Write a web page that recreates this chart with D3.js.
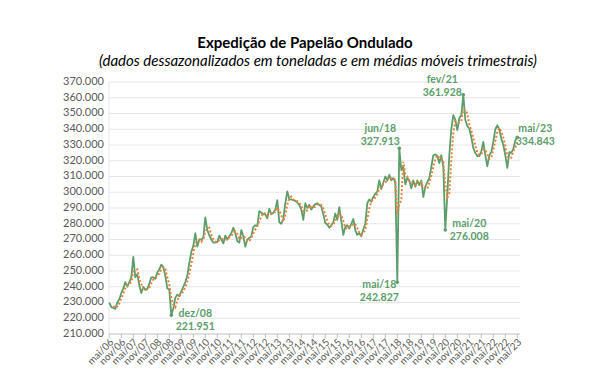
<!DOCTYPE html>
<html>
<head>
<meta charset="utf-8">
<script src="https://cdn.jsdelivr.net/npm/d3@7"></script>
<style>
  body { margin: 0; background: #fff; }
  text { font-family: Lato, "Liberation Sans", sans-serif; }
</style>
</head>
<body>
<div id="chart"></div>
<script>
// expedição mensal, mil toneladas (dessazonalizado), mai/06 .. mai/23
const monthNames = ["jan", "fev", "mar", "abr", "mai", "jun", "jul", "ago", "set", "out", "nov", "dez"];
const categories = d3.timeMonth.range(new Date(2006, 4, 1), new Date(2023, 5, 1))
    .map(d => monthNames[d.getMonth()] + "/" + String(d.getFullYear()).slice(2));
const values = [
    230, 227, 226.5, 226, 230, 232, 236, 239, 243, 240,
    243, 246, 259, 246, 248, 241, 236, 240, 238, 238.5,
    242, 246, 246, 245, 249, 251, 254, 252.5, 247, 239,
    238, 221.951, 226, 233, 235, 234, 237, 240, 243, 247,
    255, 262, 266, 274, 265.5, 270, 270, 271, 284, 276,
    272.5, 270, 268, 268, 268.5, 272.5, 270, 267.5, 272.5, 270,
    272, 274, 277.5, 274, 269, 268, 276, 272, 265.5, 270,
    271, 272, 278, 279, 278.5, 288, 287, 286, 286, 283.5,
    289.5, 286, 287, 289, 295, 281, 280, 283, 293, 300.5,
    295.5, 295.5, 295, 294.5, 293.5, 292, 289, 282.5, 293, 290,
    292, 289, 291, 292.5, 293, 292, 291, 286, 280.5, 279.5,
    277.5, 279, 281, 286.5, 282.5, 290.5, 282, 273, 278, 279,
    277, 280, 283, 276, 273, 274, 272, 276.5, 280, 293,
    295.5, 294, 297, 299, 300.5, 307.5, 302, 306, 310, 307.5,
    311, 307.5, 309, 306.5, 242.827, 327.913, 314, 316, 305, 309,
    307.5, 302.5, 307.5, 303.5, 307.5, 304.5, 307.5, 297, 303.5, 306.5,
    309, 316, 323.5, 324, 323, 318.5, 323.5, 316, 276.008, 298,
    323.5, 340, 349, 346, 339.5, 347, 349, 361.928, 346, 342,
    340.5, 335, 328, 325, 323, 323, 326, 332, 323.5, 316.5,
    323.5, 325.5, 332, 340, 342.5, 340, 334, 330, 323.5, 315.5,
    325.5, 325, 327.5, 333, 334.843
];
const yTicks = d3.range(210, 371, 10);
const labelled = ["dez/08", "mai/18", "jun/18", "mai/20", "fev/21", "mai/23"];

const W = 600, H = 392;
const green = "#5b9e6b", orange = "#e8823a", grey = "#595959";

const svg = d3.select("#chart").append("svg")
    .attr("width", W)
    .attr("height", H);

const x = d3.scalePoint().domain(categories).range([109.3, 517.3]);
const y = d3.scaleLinear().domain([210, 370]).range([334, 82]);
const fmt = d3.formatLocale({decimal: ",", thousands: ".", grouping: [3], currency: ["R$", ""]}).format(",.0f");

// titulo
svg.append("text")
    .attr("x", 305).attr("y", 48)
    .attr("text-anchor", "middle")
    .style("font-weight", "bold").style("font-size", "15px")
    .text("Expedição de Papelão Ondulado");
svg.append("text")
    .attr("x", 318).attr("y", 66)
    .attr("text-anchor", "middle")
    .style("font-style", "italic").style("font-size", "15px")
    .text("(dados dessazonalizados em toneladas e em médias móveis trimestrais)");

// grade
svg.append("g")
    .selectAll("line")
    .data(yTicks)
    .enter()
    .append("line")
    .attr("x1", 109).attr("x2", 520)
    .attr("y1", d => y(d)).attr("y2", d => y(d))
    .attr("stroke", d => d == 210 ? "#bfbfbf" : "#e6e6e6");
svg.append("line")
    .attr("x1", 109).attr("x2", 109).attr("y1", 82).attr("y2", 334)
    .attr("stroke", "#e6e6e6");

svg.append("g")
    .selectAll("text")
    .data(yTicks)
    .enter()
    .append("text")
    .attr("x", 104).attr("y", d => y(d))
    .attr("text-anchor", "end")
    .attr("dominant-baseline", "middle")
    .style("font-size", "11px").attr("fill", grey)
    .text(d => fmt(d * 1000));

// eixo x, um rotulo a cada 6 meses
const xTicks = categories.filter((_, i) => i % 6 == 0);
const xg = svg.append("g");
xg.selectAll("line")
    .data(xTicks)
    .enter()
    .append("line")
    .attr("x1", d => x(d)).attr("x2", d => x(d))
    .attr("y1", 334).attr("y2", 338)
    .attr("stroke", "#bfbfbf");
xg.selectAll("text")
    .data(xTicks)
    .enter()
    .append("text")
    .attr("transform", d => "translate(" + (x(d) + 3) + ",341) rotate(-45)")
    .attr("text-anchor", "end")
    .attr("dominant-baseline", "middle")
    .style("font-size", "10px").attr("fill", grey)
    .text(d => d);

// media movel de 3 meses (linha de tendencia)
const avg = values.map((v, i) => i < 2 ? null : d3.mean(values.slice(i - 2, i + 1)));

const line = d3.line()
    .defined(d => d[1] != null)
    .x(d => x(d[0]))
    .y(d => y(d[1]));

svg.append("path")
    .attr("d", line(categories.map((c, i) => [c, values[i]])))
    .attr("fill", "none")
    .attr("stroke", green)
    .attr("stroke-width", 1.8)
    .attr("stroke-linejoin", "round");

svg.append("path")
    .attr("d", line(categories.map((c, i) => [c, avg[i]])))
    .attr("fill", "none")
    .attr("stroke", orange)
    .attr("stroke-width", 2)
    .attr("stroke-dasharray", "2,2");

// rotulos de dados
const offsets = {
    "dez/08": [24, 2], "mai/18": [-18, 6], "jun/18": [-19, -16],
    "mai/20": [24, -3], "fev/21": [-21, -12], "mai/23": [18, -5]
};
const lab = svg.append("g")
    .selectAll("g")
    .data(labelled)
    .enter()
    .append("g")
    .attr("transform", d => "translate(" + x(d) + "," + y(values[categories.indexOf(d)]) + ")");
lab.append("circle")
    .attr("r", 1.8)
    .attr("fill", green);
lab.append("text")
    .attr("x", d => offsets[d][0])
    .attr("y", d => offsets[d][1])
    .attr("text-anchor", "middle")
    .style("font-size", "10.5px").style("font-weight", "bold")
    .attr("fill", green)
    .text(d => d);
lab.append("text")
    .attr("x", d => offsets[d][0])
    .attr("y", d => offsets[d][1] + 13)
    .attr("text-anchor", "middle")
    .style("font-size", "10.5px").style("font-weight", "bold")
    .attr("fill", green)
    .text(d => fmt(values[categories.indexOf(d)] * 1000));
</script>
</body>
</html>
